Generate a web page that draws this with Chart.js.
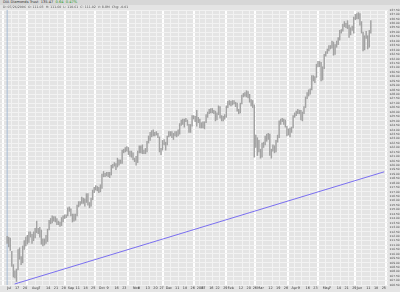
<!DOCTYPE html>
<html>
<head>
<meta charset="utf-8">
<script src="https://cdn.jsdelivr.net/npm/chart.js@4.4.1/dist/chart.umd.min.js"></script>
<style>
  html, body { margin: 0; padding: 0; background: #e4e4e4; }
  #wrap { position: relative; width: 400px; height: 292px; overflow: hidden; }
  #chart { position: absolute; left: 0; top: 0; }
  .hdr { position: absolute; left: 0; width: 400px; white-space: nowrap; font-family: 'DejaVu Sans'; color: #333; padding-left: 3px; box-sizing: border-box; }
  #t1 { top: 0; height: 5px; line-height: 5px; font-size: 3.6px; background: #d7d7d7; }
  #t1 .up { color: #2a9a2a; }
  #t2 { top: 5px; height: 5px; line-height: 5px; font-size: 3.2px; color: #555; }
</style>
</head>
<body>
<div id="wrap">
  <canvas id="chart" width="400" height="292"></canvas>
  <div class="hdr" id="t1">DIA Diamonds Trust &nbsp;135.47 &nbsp;<span class="up">0.64 &nbsp;0.47%</span></div>
  <div class="hdr" id="t2">D: 07/26/2006 &nbsp;O: 111.03 &nbsp;H: 111.60 &nbsp;L: 110.61 &nbsp;C: 111.02 &nbsp;V: 8.8M &nbsp;Chg: -0.01</div>
</div>
<script>
// daily high / low, Jul 10 2006 .. Jun 14 2007 (one entry per trading day)
const lows = [
  111.2, 110.8, 110.4, 108.6, 107.4, 107.3, 106.9, 108.2, 109.4, 108.8,
  109.0, 110.5, 110.9, 111.1, 111.3, 111.9, 111.2, 111.5, 111.8, 112.4,
  112.3, 111.9, 111.1, 110.9, 111.0, 111.2, 111.4, 112.7, 113.4, 113.5,
  113.7, 113.6, 113.3, 113.3, 113.1, 113.2, 113.6, 114.0, 114.1, 114.3,
  114.8, 114.3, 113.6, 113.7, 113.8, 114.3, 115.3, 115.5, 115.7, 115.7,
  115.4, 115.8, 115.5, 115.2, 115.4, 116.1, 116.9, 117.2, 117.1, 116.9,
  117.0, 117.4, 118.7, 118.7, 118.8, 118.7, 118.6, 118.9, 119.7, 119.9,
  119.5, 119.8, 120.0, 120.2, 120.2, 121.4, 121.5, 121.6, 121.2, 121.0,
  120.9, 120.6, 120.4, 120.0, 120.3, 121.4, 121.4, 121.3, 121.3, 121.3,
  121.5, 122.5, 122.8, 123.2, 123.3, 123.3, 123.4, 123.1, 121.5, 121.2,
  121.7, 122.3, 121.7, 122.3, 123.2, 123.3, 123.1, 122.9, 123.3, 123.2,
  123.3, 123.5, 124.5, 124.6, 124.3, 124.9, 124.5, 123.7, 123.7, 124.4,
  125.2, 124.9, 124.4, 124.8, 124.2, 124.2, 124.2, 124.1, 124.8, 125.4,
  125.8, 125.9, 125.9, 125.8, 125.0, 125.1, 125.7, 125.3, 125.0, 125.0,
  125.2, 125.4, 126.5, 126.8, 126.7, 126.8, 126.9, 126.6, 126.1, 125.8,
  125.9, 126.9, 127.7, 127.8, 127.7, 127.6, 127.1, 126.7, 126.5, 120.9,
  122.0, 121.1, 121.5, 120.8, 120.9, 122.0, 122.3, 122.7, 122.9, 121.1,
  120.8, 121.6, 121.4, 121.5, 122.6, 123.1, 124.6, 124.9, 124.6, 124.3,
  123.3, 123.4, 123.2, 123.7, 124.2, 125.4, 125.6, 125.8, 125.8, 125.1,
  125.0, 125.8, 126.5, 127.5, 127.8, 128.0, 128.5, 129.5, 129.3, 129.9,
  131.1, 131.1, 129.5, 129.6, 130.9, 132.3, 132.6, 132.9, 133.1, 133.2,
  132.4, 132.5, 133.3, 133.6, 134.1, 134.9, 135.1, 135.6, 135.5, 135.4,
  134.4, 134.7, 135.2, 134.9, 136.4, 136.5, 136.5, 135.8, 134.9, 132.9,
  133.0, 134.3, 133.1, 133.3, 134.9
];
const highs = [
  112.0, 111.9, 111.8, 110.3, 108.8, 108.1, 108.3, 110.5, 110.7, 109.7,
  110.9, 111.5, 111.9, 112.1, 112.5, 112.5, 112.2, 112.5, 112.9, 113.7,
  112.9, 113.0, 112.7, 111.7, 111.7, 112.1, 112.8, 113.8, 114.0, 114.3,
  114.2, 114.2, 114.0, 113.7, 113.6, 114.1, 114.3, 114.4, 114.4, 115.2,
  115.3, 115.1, 114.5, 114.5, 114.5, 115.5, 115.9, 115.9, 116.4, 116.3,
  116.2, 116.8, 116.8, 115.8, 116.3, 117.2, 117.5, 117.7, 117.6, 117.5,
  117.8, 119.0, 119.3, 119.1, 119.2, 119.2, 119.2, 120.0, 120.1, 120.3,
  120.2, 120.8, 120.6, 120.6, 121.7, 121.8, 122.0, 122.1, 122.0, 121.6,
  121.6, 121.4, 120.8, 121.0, 121.6, 122.2, 122.2, 122.3, 121.7, 121.9,
  122.7, 123.3, 123.7, 123.9, 124.0, 123.7, 123.8, 123.6, 123.2, 121.9,
  122.8, 122.9, 122.6, 123.3, 123.8, 123.8, 123.8, 123.6, 123.8, 123.8,
  124.0, 124.7, 125.1, 125.2, 125.2, 125.3, 125.1, 124.6, 124.6, 125.6,
  125.6, 125.5, 126.2, 125.4, 125.2, 124.8, 124.9, 124.9, 125.7, 126.0,
  126.3, 126.4, 126.4, 126.2, 126.1, 125.9, 126.7, 126.6, 125.6, 125.5,
  125.7, 126.7, 127.2, 127.3, 127.2, 127.3, 127.3, 127.1, 127.0, 126.3,
  127.0, 127.9, 128.1, 128.2, 128.4, 128.3, 128.0, 127.4, 127.3, 126.8,
  123.4, 123.1, 122.8, 121.8, 122.5, 122.6, 123.3, 123.5, 123.6, 123.5,
  121.8, 122.3, 122.2, 122.8, 123.4, 125.0, 125.2, 125.3, 125.2, 125.1,
  124.4, 124.1, 124.2, 124.3, 125.6, 125.9, 126.1, 126.3, 126.2, 126.2,
  126.0, 126.6, 127.7, 128.2, 128.5, 128.6, 130.1, 130.1, 130.0, 131.4,
  131.7, 131.7, 131.6, 131.1, 132.5, 132.8, 133.1, 133.5, 133.5, 134.0,
  133.9, 133.6, 134.0, 134.4, 135.2, 135.3, 135.9, 136.2, 136.0, 136.3,
  135.8, 135.5, 135.7, 136.7, 137.0, 137.1, 137.2, 137.1, 136.2, 135.0,
  134.6, 135.1, 134.6, 135.2, 136.3
];

// blue trend line, two anchor points (trading-day index, price)
const trendDays = [4.8, 242.6];
const trendVals = [106.61, 119.26];

// date axis labels (trading-day index of each label)
const tickDays = [0, 5, 10, 16, 20, 25, 30, 35, 39, 44, 49, 54, 59, 64, 69, 74,
  81, 84, 89, 94, 98, 102, 108, 113, 118, 122, 125, 130, 134, 139, 142, 149,
  154, 158, 161, 168, 173, 178, 183, 187, 192, 197, 203, 207, 212, 217, 222,
  225, 231, 236, 241];
const tickText = ['Jul', '17', '24', 'Aug', '7', '14', '21', '28', 'Sep', '11', '18', '25',
  'Oct', '9', '16', '23', 'Nov', '6', '13', '20', '27', 'Dec', '11', '18', '26',
  '2007', '8', '16', '22', '29', 'Feb', '12', '20', '26', 'Mar', '12', '19', '26',
  'Apr', '9', '16', '23', 'May', '7', '14', '21', '29', 'Jun', '11', '18', '25'];

const cursorDay = 0;
const yMin = 106.5, yMax = 137.5, yStep = 0.5;

Chart.defaults.font.family = 'DejaVu Sans';

const bars = lows.map((lo, i) => ({ x: i, y: [lo, highs[i]] }));
const isMonth = i => isNaN(Number(tickText[i])) || tickText[i] === '2007';

new Chart(document.getElementById('chart'), {
  type: 'bar',
  data: {
    datasets: [
      {
        type: 'line',
        data: [{ x: cursorDay, y: yMin }, { x: cursorDay, y: yMax }],
        borderColor: '#a7bdd6', borderWidth: 1, pointRadius: 0, order: 3
      },
      {
        type: 'bar',
        data: bars,
        backgroundColor: '#a2a2a2',
        barThickness: 0.8,
        grouped: false,
        order: 2
      },
      {
        type: 'line',
        data: trendDays.map((d, i) => ({ x: d, y: trendVals[i] })),
        borderColor: '#7a6ff0', borderWidth: 1, pointRadius: 0, order: 1
      }
    ]
  },
  options: {
    responsive: false,
    animation: false,
    plugins: { legend: { display: false }, tooltip: { enabled: false } },
    layout: { padding: { top: 10, left: 0, right: 0, bottom: 0 } },
    scales: {
      x: {
        type: 'linear',
        min: -2.15,
        max: 242.6,
        afterBuildTicks: ax => { ax.ticks = tickDays.map(v => ({ value: v })); },
        afterFit: ax => { ax.height = 7; },
        border: { display: false },
        grid: {
          drawTicks: false,
          color: ctx => isMonth(ctx.index) ? '#ffffff' : '#f2f2f2',
          lineWidth: ctx => isMonth(ctx.index) ? 2 : 1
        },
        ticks: {
          autoSkip: false, maxRotation: 0, align: 'start', padding: 1,
          font: { size: 3.4 }, color: '#333',
          callback: (v, i) => tickText[i]
        }
      },
      y: {
        position: 'right',
        min: yMin,
        max: yMax,
        afterFit: ax => { ax.width = 12; },
        border: { display: false },
        grid: { drawTicks: false, color: '#f2f2f2' },
        ticks: {
          stepSize: yStep, maxTicksLimit: 200, autoSkip: false, padding: 1.5,
          font: { size: 2.9 }, color: '#444',
          callback: v => v.toFixed(2)
        }
      }
    }
  }
});
</script>
</body>
</html>
